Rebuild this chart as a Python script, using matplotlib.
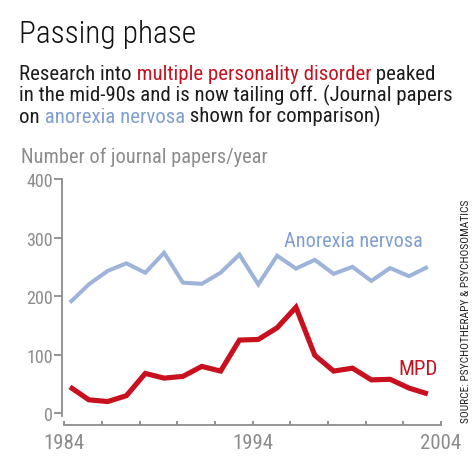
import matplotlib
matplotlib.use('Agg')
import numpy as np
import matplotlib.pyplot as plt
from matplotlib import font_manager as fm

# ---- data ----
years = list(range(1984, 2004))
anorexia = [189, 220, 243, 256, 240, 274, 223, 221, 240, 271,
            220, 269, 247, 262, 238, 250, 226, 248, 234, 250]
mpd = [45, 23, 20, 30, 68, 60, 63, 80, 72, 125,
       126, 146, 181, 99, 72, 77, 57, 58, 43, 33]
ytick_values = [0, 100, 200, 300, 400]
xtick_labels = [1984, 1994, 2004]
xminor_ticks = list(range(1984, 2005, 2))

# ---- fonts ----
names = {f.name for f in fm.fontManager.ttflist}
def pick(*cands):
    for c in cands:
        if c in names:
            return c
    return 'DejaVu Sans'
FONT = pick('Liberation Sans Narrow', 'Roboto Condensed', 'Open Sans Condensed', 'Liberation Sans')
plt.rcParams['font.family'] = [FONT, 'DejaVu Sans']

RED = '#c8101e'
BLUE_LINE = '#9db3da'
BLUE_TXT = '#7f9ed2'
GREY = '#8c8c8c'
DARK = '#1c1c1c'

W, H = 477, 464
fig = plt.figure(figsize=(W / 100, H / 100), dpi=100)

def fx(px):
    return px / W
def fy(py):
    return 1 - py / H

# axes
ax = fig.add_axes([fx(62), fy(416.6), fx(441) - fx(62), fy(180) - fy(416.6)])
ax.set_xlim(1983.88, 2004)
ax.set_ylim(-4, 400)

xoff = 0.3
x = np.array(years) + xoff
ax.plot(x, anorexia, color=BLUE_LINE, lw=2.9, solid_joinstyle='miter', solid_capstyle='butt')
ax.plot(x, mpd, color=RED, lw=3.7, solid_joinstyle='miter', solid_capstyle='butt')

for s in ('top', 'right'):
    ax.spines[s].set_visible(False)
for s in ('left', 'bottom'):
    ax.spines[s].set_color(GREY)
    ax.spines[s].set_linewidth(1.3)
ax.spines['bottom'].set_position(('outward', 6.8))
ax.spines['bottom'].set_bounds(1984, 2004)
ax.spines['left'].set_bounds(-4, 400)

ax.set_yticks(ytick_values)
ax.set_yticklabels([str(v) for v in ytick_values])
ax.set_xticks(xtick_labels)
ax.set_xticklabels([str(v) for v in xtick_labels])
ax.set_xticks(xminor_ticks, minor=True)
ax.tick_params(axis='y', direction='out', length=5.5, width=1.3, color=GREY,
               labelcolor=GREY, labelsize=13, pad=1)
ax.tick_params(axis='x', which='both', direction='in', length=3.2, width=1.3, color=GREY,
               labelcolor=GREY, labelsize=15, pad=6)

# inline labels
ax.text(2003.05, 285, 'Anorexia nervosa', color=BLUE_TXT, fontsize=14.6,
        ha='right', va='baseline')
ax.text(2003.8, 67.5, 'MPD', color=RED, fontsize=15, ha='right', va='baseline')

# title
fig.text(fx(19), fy(43.3), 'Passing phase', fontsize=22.6, fontweight='light',
         color='#111111', va='baseline')

# subtitle with coloured phrases
SUB = 15
lines = [
    [('Research into', DARK), (' multiple personality disorder', RED), (' peaked', DARK)],
    [('in the mid-90s and is now tailing off. (Journal papers', DARK)],
    [('on', DARK), (' anorexia nervosa', BLUE_TXT), (' shown for comparison)', DARK)],
]
baselines = [80, 101.7, 123.3]
for pieces, yb in zip(lines, baselines):
    prev = fig.text(fx(19), fy(yb), pieces[0][0], color=pieces[0][1],
                    fontsize=SUB, va='baseline')
    for txt, col in pieces[1:]:
        prev = ax.annotate(txt, xy=(1, 0), xycoords=prev, va='bottom', ha='left',
                           color=col, fontsize=SUB, annotation_clip=False)

fig.text(fx(21), fy(163.3), 'Number of journal papers/year', fontsize=14.7,
         color=GREY, va='baseline')

fig.text(fx(466), fy(423.5), 'SOURCE: PSYCHOTHERAPY & PSYCHOSOMATICS', fontsize=8.2,
         color='#222222', rotation=90, ha='center', va='bottom')

fig.savefig('out.png', dpi=100)
